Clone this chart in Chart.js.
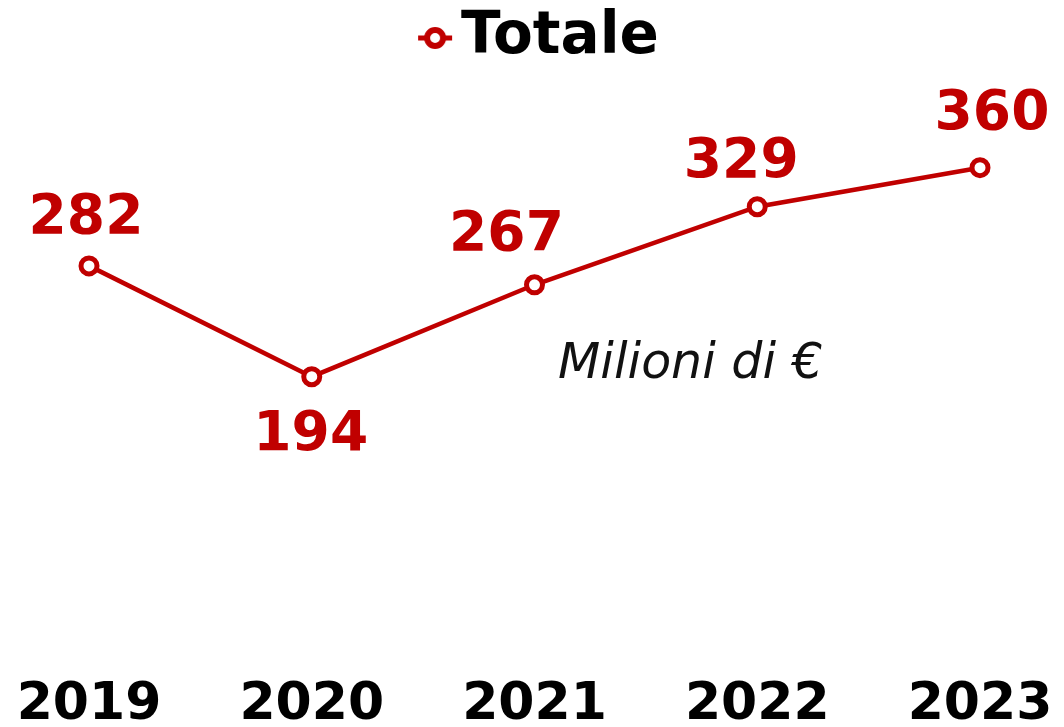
<!DOCTYPE html>
<html>
<head>
<meta charset="utf-8">
<script src="https://cdn.jsdelivr.net/npm/chart.js@4"></script>
<style>
  html, body { margin: 0; padding: 0; background: #fff; }
  #wrap { width: 1064px; height: 727px; }
</style>
</head>
<body>
<div id="wrap"><canvas id="totaleChart"></canvas></div>
<script>
// Data
const years = ["2019", "2020", "2021", "2022", "2023"];
const totale = [282, 194, 267, 329, 360];
const seriesName = "Totale";
const unitNote = "Milioni di €";

const red = "#C00000";

// legend marker: short line with hollow circle (drawn in the right part of the canvas)
function makeLegendMarker() {
    const c = document.createElement("canvas");
    c.width = 66;
    c.height = 28;
    const g = c.getContext("2d");
    g.strokeStyle = red;
    g.lineWidth = 5;
    g.beginPath();
    g.moveTo(30, 14);
    g.lineTo(64, 14);
    g.stroke();
    g.lineWidth = 6;
    g.fillStyle = "#fff";
    g.beginPath();
    g.arc(47, 14, 8, 0, Math.PI * 2);
    g.fill();
    g.stroke();
    return c;
}

// value labels next to the points
const valueLabels = {
    id: "valueLabels",
    afterDatasetsDraw(chart, args, opts) {
        const ctx = chart.ctx;
        const meta = chart.getDatasetMeta(0);
        ctx.save();
        ctx.font = "bold 55px 'DejaVu Sans'";
        ctx.fillStyle = red;
        ctx.textAlign = "center";
        ctx.textBaseline = "alphabetic";
        meta.data.forEach((pt, i) => {
            const v = chart.data.datasets[0].data[i];
            ctx.fillText(String(v), pt.x + opts.dx[i], pt.y + opts.dy[i]);
        });
        ctx.restore();
    }
};

// unit note inside the plot
const unitText = {
    id: "unitText",
    afterDraw(chart, args, opts) {
        const ctx = chart.ctx;
        const x = chart.scales.x.getPixelForValue(opts.at);
        const y = chart.scales.y.getPixelForValue(opts.value);
        ctx.save();
        ctx.font = "italic 49px 'DejaVu Sans'";
        ctx.fillStyle = "#111";
        ctx.textAlign = "center";
        ctx.textBaseline = "alphabetic";
        ctx.fillText(unitNote, x, y);
        ctx.restore();
    }
};

const ctx = document.getElementById("totaleChart").getContext("2d");
new Chart(ctx, {
    type: "line",
    data: {
        labels: years,
        datasets: [{
            label: seriesName,
            data: totale,
            borderColor: red,
            borderWidth: 4.5,
            backgroundColor: "#fff",
            pointRadius: 8,
            pointBorderWidth: 5,
            pointBackgroundColor: "#fff",
            pointBorderColor: red,
            tension: 0
        }]
    },
    options: {
        responsive: true,
        maintainAspectRatio: false,
        animation: false,
        layout: { padding: { left: 89, right: 84, top: 0, bottom: -9 } },
        plugins: {
            legend: {
                display: true,
                position: "top",
                labels: {
                    usePointStyle: true,
                    pointStyle: makeLegendMarker(),
                    pointStyleWidth: 22,
                    boxHeight: 1,
                    padding: 9,
                    color: "#000",
                    font: { family: "'DejaVu Sans'", size: 58, weight: "bold" }
                }
            },
            tooltip: { enabled: false },
            valueLabels: { dx: [-3, -1, -28, -16, 12], dy: [-33, 73, -35, -30, -39] },
            unitText: { at: 2.7, value: 193 }
        },
        scales: {
            x: {
                grid: { display: true, drawOnChartArea: false, color: "transparent", tickLength: 53 },
                border: { display: false },
                ticks: {
                    color: "#000",
                    padding: 5,
                    font: { family: "'DejaVu Sans'", size: 52, weight: "bold", lineHeight: 1 }
                }
            },
            y: {
                display: false,
                min: 0,
                max: 432
            }
        }
    },
    plugins: [valueLabels, unitText]
});
</script>
</body>
</html>
